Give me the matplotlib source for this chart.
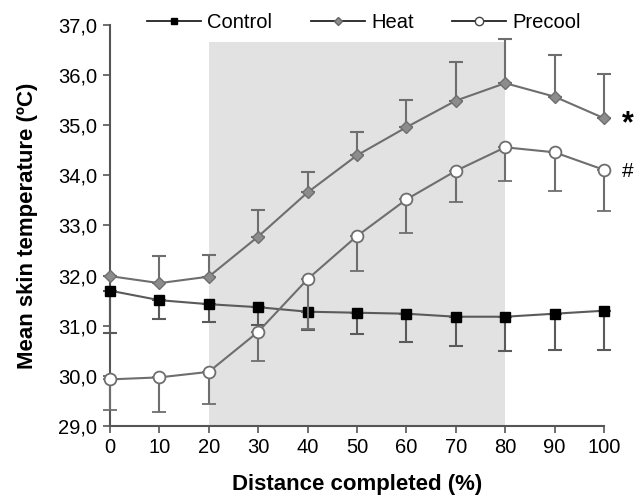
import numpy as np
import matplotlib.pyplot as plt
from matplotlib.lines import Line2D
from matplotlib.ticker import FuncFormatter

plt.rcParams['font.family'] = ['Liberation Sans', 'DejaVu Sans']

# distance completed (%)
distance = [0, 10, 20, 30, 40, 50, 60, 70, 80, 90, 100]

control = [31.70, 31.51, 31.43, 31.37, 31.28, 31.26, 31.24, 31.18, 31.18, 31.24, 31.30]
control_err = [0.84, 0.37, 0.35, 0.35, 0.37, 0.43, 0.56, 0.58, 0.68, 0.72, 0.78]

heat = [31.99, 31.85, 31.98, 32.78, 33.66, 34.40, 34.96, 35.49, 35.84, 35.57, 35.14]
heat_err = [0.0, 0.54, 0.43, 0.52, 0.40, 0.46, 0.54, 0.78, 0.88, 0.83, 0.88]

precool = [29.93, 29.97, 30.08, 30.88, 31.93, 32.79, 33.52, 34.09, 34.56, 34.46, 34.11]
precool_err = [0.61, 0.70, 0.65, 0.58, 0.99, 0.69, 0.67, 0.62, 0.68, 0.78, 0.83]

shade_x = [20, 80]
shade_top = 36.67

fig = plt.figure(figsize=(6.41, 4.95), dpi=100)
ax = fig.add_axes([0.1716, 0.1394, 0.7707, 0.8101])

ax.fill_between(shade_x, 29, shade_top, color='#e2e2e2', lw=0, zorder=0)

zero = [0] * len(distance)
ax.errorbar(distance, control, yerr=[control_err, zero], color='#5a5a5a', lw=1.5,
            elinewidth=1.5, capsize=5, capthick=1.5, marker='s', ms=7,
            mfc='black', mec='black', clip_on=False, zorder=3)
ax.errorbar(distance, heat, yerr=[zero, heat_err], color='#6e6e6e', lw=1.5,
            elinewidth=1.5, capsize=5, capthick=1.5, marker='D', ms=6,
            mfc='#8c8c8c', mec='#6e6e6e', clip_on=False, zorder=3)
ax.errorbar(distance, precool, yerr=[precool_err, zero], color='#6e6e6e', lw=1.5,
            elinewidth=1.5, capsize=5, capthick=1.5, marker='o', ms=8.5,
            mfc='white', mec='#6e6e6e', mew=1.3, clip_on=False, zorder=4)

ax.annotate('*', (distance[-1], heat[-1]), xytext=(17, -4), textcoords='offset points',
            fontsize=22, fontweight='bold', ha='center', va='center', annotation_clip=False)
ax.annotate('#', (distance[-1], precool[-1]), xytext=(17, -1), textcoords='offset points',
            fontsize=15, ha='center', va='center', annotation_clip=False)

ax.set_xlim(0, 100)
ax.set_ylim(29, 37)
ax.set_xticks(distance)
ax.set_yticks(np.arange(29, 37.5, 1))
ax.yaxis.set_major_formatter(FuncFormatter(lambda v, p: f'{v:.1f}'.replace('.', ',')))
ax.tick_params(labelsize=14.5, length=5, width=1.2, color='#555555', pad=4)

for s in ['top', 'right']:
    ax.spines[s].set_visible(False)
for s in ['left', 'bottom']:
    ax.spines[s].set_color('#555555')
    ax.spines[s].set_linewidth(1.5)

ax.set_xlabel('Distance completed (%)', fontsize=16, fontweight='bold', labelpad=12)
ax.set_ylabel('Mean skin temperature (ºC)', fontsize=16, fontweight='bold', labelpad=15)

handles = [
    Line2D([], [], color='#222222', lw=1.3, marker='s', ms=4.5, mfc='black', mec='black'),
    Line2D([], [], color='#222222', lw=1.3, marker='D', ms=4.5, mfc='#8c8c8c', mec='#666666'),
    Line2D([], [], color='#222222', lw=1.3, marker='o', ms=6, mfc='white', mec='#444444'),
]
ax.legend(handles, ['Control', 'Heat', 'Precool'], loc='center', bbox_to_anchor=(0.514, 1.007),
          ncol=3, frameon=False, fontsize=14.5, handlelength=2.7, columnspacing=1.9,
          handletextpad=0.3, borderaxespad=0)

fig.savefig('out.png', dpi=100)
